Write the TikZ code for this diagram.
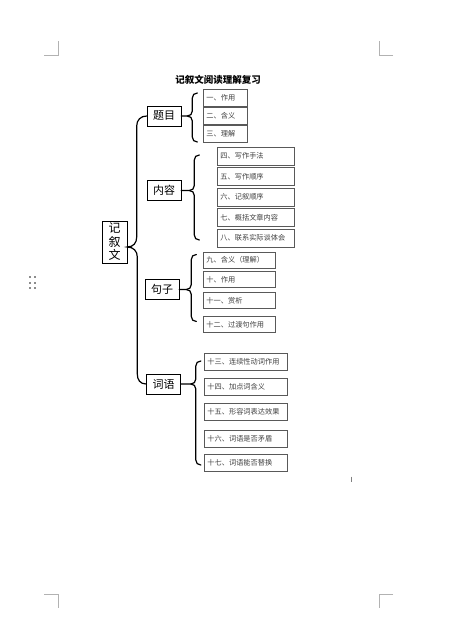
\documentclass[tikz,border=0pt]{standalone}
\usepackage{fontspec}
\newfontfamily\cjk{Noto Sans CJK SC}
\usepackage{tikz}

% brace from a topic node: #1 node, #2 stub, #3 up, #4 down
\newcommand{\grpbrace}[4]{%
  \draw[brace] (#1.east) -- ++(#2,0) coordinate (#1-tip)
    .. controls +(3,0) and +(0,3) .. ++(5,-5) -- ++(0,{10-#3})
    .. controls +(0,-3) and +(-3,0) .. ++(5,-5);
  \draw[brace] (#1-tip) .. controls +(3,0) and +(0,-3) .. ++(5,5) -- ++(0,{#4-10})
    .. controls +(0,3) and +(-3,0) .. ++(5,5);}

\begin{document}
\begin{tikzpicture}[x=1pt, y=-1pt,
  topic/.style={draw, line width=0.6pt, fill=white, minimum width=34pt, minimum height=20pt, inner sep=2pt, font=\cjk\fontsize{11}{13}\selectfont},
  item/.style={draw=black!65, line width=0.9pt, anchor=west, text width=#1, minimum height=17pt, inner xsep=3pt, inner ysep=1pt, align=left, text=black!75, font=\cjk\fontsize{7.2}{8.5}\selectfont},
  brace/.style={line width=1.2pt, line cap=round},
  cropmark/.style={draw=black!30, line width=0.6pt}
]
  \fill[white] (0,0) rectangle (454,635);
  \useasboundingbox (0,0) rectangle (454,635);

  % Page marks
  \draw[cropmark] (44,55) -- (58,55) -- (58,41);
  \draw[cropmark] (393,55) -- (379,55) -- (379,41);
  \draw[cropmark] (44,594) -- (58,594) -- (58,608);
  \draw[cropmark] (393,594) -- (379,594) -- (379,608);
  \foreach \dx in {29.5,34.5}
    \foreach \dy in {277,282.5,288}
      \fill[black!45] (\dx-1,\dy-1) rectangle ++(2,2);
  \draw[black!50, line width=0.8pt] (351,476.5) -- (351,481.5);

  % Title
  \node[font=\cjk\bfseries\fontsize{9.5}{11}\selectfont] (title) at (218,80) {记叙文阅读理解复习};

  % Root
  \node[topic, minimum width=25pt, minimum height=42pt, align=center, font=\cjk\fontsize{12}{13.5}\selectfont] (root) at (114.5,242) {记\\叙\\文};

  % Topics
  \node[topic] (timu) at (164,116) {题目};
  \node[topic] (neirong) at (164,190.5) {内容};
  \node[topic] (juzi) at (162,289.5) {句子};
  \node[topic] (ciyu) at (163.5,384) {词语};

  % Big brace
  \draw[brace] (timu.west) .. controls +(-6,0) and +(0,-6) .. ++(-10,10) -- ++(0,111)
    .. controls +(0,6) and +(6,0) .. ([yshift=-5pt]root.east)
    .. controls +(6,0) and +(0,-6) .. ++(10,10) -- ++(0,117)
    .. controls +(0,6) and +(-6,0) .. (ciyu.west);

  % Title items
  \node[item=38pt] (t1) at (203,97.5) {一、作用};
  \node[item=38pt] (t2) at (203,115.5) {二、含义};
  \node[item=38pt] (t3) at (203,133.5) {三、理解};
  \grpbrace{timu}{6}{23}{26}

  % Content items
  \node[item=71pt, minimum height=18pt] (n1) at (217,156) {四、写作手法};
  \node[item=71pt, minimum height=18pt] (n2) at (217,176.5) {五、写作顺序};
  \node[item=71pt, minimum height=18pt] (n3) at (217,197) {六、记叙顺序};
  \node[item=71pt, minimum height=18pt] (n4) at (217,217.5) {七、概括文章内容};
  \node[item=71pt, minimum height=18pt] (n5) at (217,238) {八、联系实际谈体会};
  \grpbrace{neirong}{8}{35.5}{49.5}

  % Sentence items
  \node[item=66pt, minimum height=16pt] (j1) at (203,260) {九、含义（理解）};
  \node[item=66pt, minimum height=16pt] (j2) at (203,279.5) {十、作用};
  \node[item=66pt, minimum height=16pt] (j3) at (203,300.5) {十一、赏析};
  \node[item=66pt, minimum height=16pt] (j4) at (203,324.5) {十二、过渡句作用};
  \grpbrace{juzi}{7}{35}{32}

  % Word items
  \node[item=77pt] (c1) at (204,362) {十三、连续性动词作用};
  \node[item=77pt] (c2) at (204,386.5) {十四、加点词含义};
  \node[item=77pt] (c3) at (204,411.5) {十五、形容词表达效果};
  \node[item=77pt] (c4) at (204,438.5) {十六、词语是否矛盾};
  \node[item=77pt] (c5) at (204,463) {十七、词语能否替换};
  \grpbrace{ciyu}{10}{23}{81}
\end{tikzpicture}
\end{document}
